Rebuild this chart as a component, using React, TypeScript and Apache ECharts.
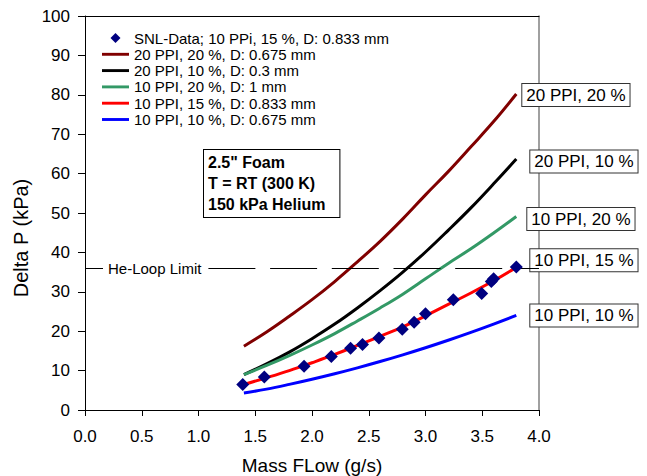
import React, { useEffect, useRef } from 'react';
import * as echarts from 'echarts';

// Mass flow (g/s) at which the model curves are sampled
const curveX = [1.4, 1.6, 1.8, 2.0, 2.2, 2.4, 2.6, 2.8, 3.0, 3.2, 3.4, 3.6, 3.8];
// Delta P (kPa) of the model curves
const ppi20p20 = [16.2, 19.8, 23.8, 28.0, 32.6, 37.6, 42.8, 48.5, 54.6, 60.5, 66.8, 73.2, 80.2];
const ppi20p10 = [9.0, 11.7, 14.7, 18.1, 21.8, 25.9, 30.3, 35.0, 40.1, 45.6, 51.3, 57.4, 63.7];
const ppi10p20 = [9.0, 11.3, 13.8, 16.5, 19.4, 22.6, 25.9, 29.4, 33.3, 37.2, 40.9, 44.9, 49.1];
const ppi10p15 = [6.5, 8.2, 10.0, 12.0, 14.1, 16.4, 18.7, 21.1, 23.9, 26.8, 29.7, 32.8, 36.2];
const ppi10p10 = [4.3, 5.3, 6.5, 7.8, 9.2, 10.7, 12.3, 14.0, 15.8, 17.7, 19.7, 21.8, 24.0];

// SNL measured data
const snlX = [1.39, 1.58, 1.93, 2.17, 2.34, 2.445, 2.59, 2.795, 2.9, 3.0, 3.245, 3.495, 3.58, 3.6, 3.8];
const snlY = [6.5, 8.4, 11.1, 13.6, 15.7, 16.6, 18.3, 20.5, 22.3, 24.4, 28.0, 29.6, 32.6, 33.3, 36.3];

const heLoopLimit = 36;

const seriesNames = [
  'SNL-Data; 10 PPi, 15 %, D: 0.833 mm',
  '20 PPI, 20 %, D: 0.675 mm',
  '20 PPI, 10 %, D: 0.3 mm',
  '10 PPI, 20 %, D: 1 mm',
  '10 PPI, 15 %, D: 0.833 mm',
  '10 PPI, 10 %, D: 0.675 mm',
];
const endLabels = ['20 PPI, 20 %', '20 PPI, 10 %', '10 PPI, 20 %', '10 PPI, 15 %', '10 PPI, 10 %'];
const curveValues = [ppi20p20, ppi20p10, ppi10p20, ppi10p15, ppi10p10];
const curveColors = ['#800000', '#000000', '#339966', '#FF0000', '#0000FF'];
const labelOffsets = [[1, 1], [9, 2.5], [6, 2.5], [9, -7], [9, 0]];

const FONT = 'Arial, "Liberation Sans", sans-serif';

export default function App() {
  const ref = useRef<HTMLDivElement>(null);

  useEffect(() => {
    if (!ref.current) return;
    const chart = echarts.init(ref.current, null, { renderer: 'svg' });

    const lineSeries: any[] = curveValues.map((vals, i) => ({
      name: seriesNames[i + 1],
      type: 'line',
      data: curveX.map((x, j) => [x, vals[j]]),
      smooth: 0.4,
      symbol: 'none',
      color: curveColors[i],
      lineStyle: { width: 3, color: curveColors[i] },
      z: 3,
      silent: true,
      endLabel: {
        show: true,
        formatter: endLabels[i],
        fontFamily: FONT,
        fontSize: 17,
        color: '#000',
        backgroundColor: '#fff',
        borderColor: '#333',
        borderWidth: 1,
        padding: [3, 4, 2, 4],
        distance: 5,
        offset: labelOffsets[i],
      },
    }));

    lineSeries[4].markLine = {
      silent: true,
      symbol: ['none', 'none'],
      animation: false,
      lineStyle: { type: [47, 14.7], color: '#000', width: 1 },
      label: {
        show: true,
        position: 'insideStart',
        formatter: 'He-Loop Limit',
        fontFamily: FONT,
        fontSize: 15,
        color: '#000',
        backgroundColor: '#fff',
        padding: [0, 5],
        distance: 18,
      },
      emphasis: { disabled: true },
      data: [{ yAxis: heLoopLimit }],
    };

    const barIcon = 'path://M0,0L28,0L28,3L0,3Z';

    const option: any = {
      animation: false,
      backgroundColor: '#fff',
      grid: { left: 85, right: 108, top: 16, bottom: 66, outerBoundsMode: 'none', containLabel: false },
      legend: {
        orient: 'vertical',
        left: 97,
        top: 25,
        itemWidth: 27,
        itemHeight: 10,
        itemGap: 0.3,
        selectedMode: false,
        textStyle: { fontFamily: FONT, fontSize: 15, color: '#000', lineHeight: 16 },
        data: [
          { name: seriesNames[0], icon: 'path://M5,0L10,5L5,10L0,5Z', itemStyle: { color: '#000080', opacity: 1 } },
          ...curveColors.map((c, i) => ({ name: seriesNames[i + 1], icon: barIcon, itemStyle: { color: c } })),
        ],
      },
      xAxis: [
        {
          type: 'value',
          min: 0,
          max: 4,
          interval: 0.5,
          axisLine: { lineStyle: { color: '#000', width: 1 } },
          axisTick: { show: true, length: 6, lineStyle: { color: '#000' } },
          axisLabel: {
            formatter: (v: number) => v.toFixed(1),
            fontFamily: FONT,
            fontSize: 17,
            color: '#000',
            margin: 18,
          },
          splitLine: { show: false },
          name: 'Mass FLow (g/s)',
          nameLocation: 'middle',
          nameGap: 46,
          nameTextStyle: { fontFamily: FONT, fontSize: 19, lineHeight: 19, color: '#000' },
        },
        {
          type: 'value',
          position: 'top',
          min: 0,
          max: 4,
          axisLine: { onZero: false, lineStyle: { color: '#000', width: 1 } },
          axisTick: { show: false },
          axisLabel: { show: false },
          splitLine: { show: false },
        },
      ],
      yAxis: [
        {
          type: 'value',
          min: 0,
          max: 100,
          interval: 10,
          axisLine: { show: true, lineStyle: { color: '#000', width: 1 } },
          axisTick: { show: true, length: 7, lineStyle: { color: '#000' } },
          axisLabel: { fontFamily: FONT, fontSize: 17, color: '#000', margin: 15 },
          splitLine: { show: false },
          name: 'Delta P (kPa)',
          nameLocation: 'middle',
          nameGap: 53,
          nameTextStyle: { fontFamily: FONT, fontSize: 20, color: '#000', padding: [0, 50, 0, 0] },
        },
        {
          type: 'value',
          position: 'right',
          min: 0,
          max: 100,
          axisLine: { show: true, onZero: false, lineStyle: { color: '#808080', width: 1.5 } },
          axisTick: { show: false },
          axisLabel: { show: false },
          splitLine: { show: false },
        },
      ],
      graphic: [
        {
          type: 'text',
          left: 203,
          top: 149,
          z: 100,
          style: {
            text: '2.5" Foam\nT = RT (300 K)\n150 kPa Helium',
            fontFamily: FONT,
            fontWeight: 'bold',
            fontSize: 16,
            lineHeight: 21,
            fill: '#000',
            backgroundColor: '#fff',
            borderColor: '#000',
            borderWidth: 1,
            padding: [2, 14, 2, 4],
          },
        },
      ],
      series: [
        ...lineSeries,
        {
          name: seriesNames[0],
          type: 'scatter',
          data: snlX.map((x, i) => [x, snlY[i]]),
          symbol: 'diamond',
          symbolSize: 13,
          itemStyle: { color: '#000080', opacity: 1 },
          z: 10,
          silent: true,
        },
      ],
    };

    chart.setOption(option);
    return () => chart.dispose();
  }, []);

  return (
    <div
      ref={ref}
      style={{ position: 'absolute', left: 0, top: 0, width: 647, height: 476 }}
    />
  );
}
